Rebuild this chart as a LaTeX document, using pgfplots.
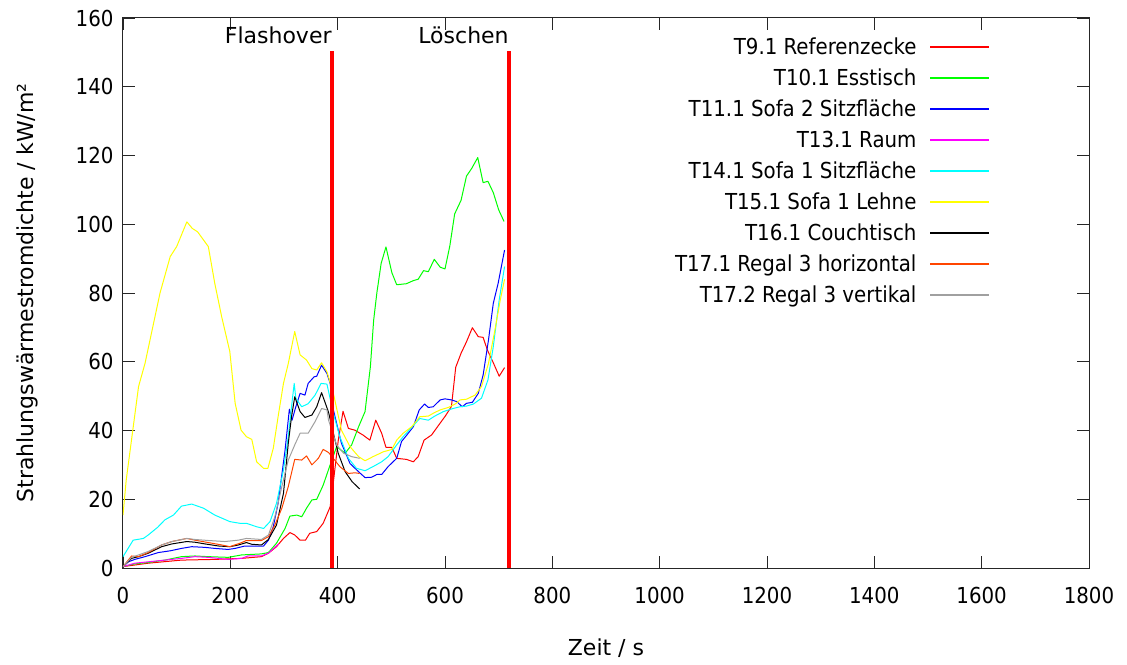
\documentclass[border=0pt]{standalone}
\usepackage{fontspec}
\setmainfont{DejaVu Sans Condensed}
\newfontfamily\widefont{DejaVu Sans}
\usepackage{pgfplots}
\pgfplotsset{compat=1.18}
\usetikzlibrary{calc}
\definecolor{plotorange}{RGB}{255,69,0}
\definecolor{plotgray}{RGB}{160,160,160}
\definecolor{plotcyan}{RGB}{0,255,255}
\definecolor{plotgreen}{RGB}{0,255,0}
\definecolor{plotyellow}{RGB}{255,255,0}
\definecolor{plotmagenta}{RGB}{255,0,255}
\definecolor{plotred}{RGB}{255,0,0}
\definecolor{plotblue}{RGB}{0,0,255}
\begin{document}
\begin{tikzpicture}[font=\fontsize{22}{26}\selectfont]
\begin{axis}[name=ax, scale only axis, width=966pt, height=550pt,
  xmin=0, xmax=1800, ymin=0, ymax=160,
  xtick distance=200, ytick distance=20,
  tick align=inside, major tick length=12pt,
  axis line style={black!85, line width=1pt},
  every tick/.style={black!85, line width=0.8pt},
  /pgf/number format/assume math mode=true,
  /pgf/number format/set thousands separator={},
  yticklabel style={xshift=-6pt},
  xticklabel style={yshift=-16pt},
  legend plot pos=right,
  legend cell align=right,
  legend image code/.code={\draw[#1, line width=1.5pt] (0pt,0pt) -- (59pt,0pt);},
  legend style={draw=none, fill=none, inner sep=0pt, outer sep=0pt,
    at={(rel axis cs:0.8975,0.9619)}, anchor=north east,
    row sep=15pt, column sep=13pt,
    nodes={inner sep=0pt, text height=16pt, text depth=0pt}},
  every axis plot/.append style={line width=1pt, line join=round},
]
% T9.1 Referenzecke
\addplot[color=plotred] coordinates {(0,0.4) (47,1.4) (109,2.3) (171,2.5) (221,2.8) (258,3.3) (271,4.3) (286,6.2) (299,8.6) (311,10.3) (320,9.6) (330,8.1) (340,8.1) (348,10.1) (361,10.6) (373,13) (386,17.8) (392,25) (401,37) (410,45.6) (420,40.6) (432,40.1) (447,38.7) (460,37.2) (471,43) (482,39.2) (490,35.1) (501,35.1) (510,31.9) (528,31.6) (541,30.9) (550,32.4) (561,37.2) (575,38.7) (587,41.3) (601,44.3) (612,47) (620,58.4) (630,62.5) (640,65.8) (651,69.9) (662,67.3) (671,67.1) (679,63.4) (690,59.7) (701,55.8) (711,58.3)};
\addlegendentry{T9.1 Referenzecke}
% T10.1 Esstisch
\addplot[color=plotgreen] coordinates {(0,0.4) (22,1.2) (47,1.6) (78,2.3) (109,3.3) (134,3.5) (159,3.3) (196,3.1) (221,3.8) (258,4.1) (271,4.5) (286,7.2) (302,11.5) (311,15.1) (324,15.4) (333,14.9) (342,17.4) (352,19.8) (361,20) (373,24.1) (386,30) (398,35.3) (414,33.4) (426,35.8) (439,41.1) (451,45.5) (461,58.6) (467,72) (473,80) (481,88.6) (490,93.4) (501,85.9) (510,82.4) (528,82.7) (541,83.6) (550,84) (560,86.5) (569,86.2) (580,89.8) (591,87.5) (600,87) (609,93.7) (618,103) (630,107) (640,114) (650,116.3) (661,119.4) (671,112.1) (680,112.5) (690,109.2) (700,104.2) (710,100.8)};
\addlegendentry{T10.1 Esstisch}
% T11.1 Sofa 2 Sitzflaeche
\addplot[color=plotblue] coordinates {(0,0.4) (10,1.8) (22,2.5) (41,3.3) (66,4.5) (88,5) (109,5.7) (128,6.2) (153,6) (171,5.7) (196,5.4) (209,5.7) (227,6.4) (246,6.4) (262,6.4) (271,8.1) (280,12) (289,18.8) (302,34.3) (310,46.2) (315,43) (322,46.9) (330,50.8) (339,50.3) (345,53.7) (356,55.6) (361,55.8) (370,59) (380,56.6) (386,53.7) (392,46) (407,36.3) (423,30.4) (439,28) (451,26.3) (463,26.4) (473,27.2) (482,27.2) (494,29.5) (510,31.9) (519,36.8) (529,38.7) (541,41.1) (552,46) (562,47.7) (569,46.7) (578,46.9) (591,48.9) (600,49.2) (612,48.9) (622,48.4) (632,46.9) (640,47.9) (651,48.2) (662,50.8) (671,56.1) (681,66.3) (690,77) (699,82.8) (711,92.5)};
\addlegendentry{T11.1 Sofa 2 Sitzfläche}
% T13.1 Raum
\addplot[color=plotmagenta] coordinates {(0,0.4) (22,1.4) (47,1.8) (78,2.3) (109,2.8) (134,3.3) (159,3.1) (196,2.5) (221,2.8) (233,3.5) (258,3.5) (271,4.3) (283,6.0) (290,7.0)};
\addlegendentry{T13.1 Raum}
% T14.1 Sofa 1 Sitzflaeche
\addplot[color=plotcyan] coordinates {(0,3.3) (19,8.1) (38,8.6) (47,9.6) (65,11.9) (78,14) (94,15.4) (109,18) (128,18.6) (150,17.4) (171,15.4) (199,13.5) (218,13) (230,13) (249,12) (262,11.5) (274,13.5) (286,18.8) (299,28.5) (308,38.2) (314,46.9) (319,53.7) (322,49.4) (333,46.9) (345,47.8) (358,50.3) (369,53.7) (380,53.5) (392,45) (404,38.2) (420,31.9) (435,29) (451,28.3) (466,29.5) (482,30.9) (494,32.4) (510,35.8) (522,38.2) (538,40.9) (553,43.5) (569,43) (581,44.2) (597,45.5) (615,46.4) (628,46.9) (640,47.1) (653,47.7) (668,49.4) (680,54.7) (690,64.4) (701,78) (711,87.7)};
\addlegendentry{T14.1 Sofa 1 Sitzfläche}
% T15.1 Sofa 1 Lehne
\addplot[color=plotyellow] coordinates {(0,15.4) (6,25.6) (29,52.8) (41,59.5) (69,80) (88,90.6) (100,93.5) (119,100.7) (129,98.8) (139,97.8) (159,93.5) (171,82.8) (184,73) (199,63) (209,47.9) (220,40.1) (230,38.2) (240,37.4) (249,30.9) (262,29) (270,29) (280,34.8) (289,44) (299,53.7) (308,59.5) (320,68.8) (330,62) (342,60.5) (352,58) (361,57.6) (370,59.7) (380,57.1) (392,50.8) (407,40.1) (423,35.3) (439,32.4) (451,31.2) (466,32.4) (485,33.8) (501,34.5) (510,37.2) (522,39.2) (538,41.1) (553,44) (569,44.2) (578,45) (591,46) (606,46.7) (619,47.7) (628,48.9) (640,49.1) (656,50.3) (668,52.8) (681,59.5) (693,69.2) (703,78) (711,84)};
\addlegendentry{T15.1 Sofa 1 Lehne}
% T16.1 Couchtisch
\addplot[color=black] coordinates {(0,0.4) (16,2.8) (29,3.3) (47,4.3) (72,6.2) (91,7) (119,7.7) (134,7.5) (153,7) (178,6.4) (199,6.2) (215,6.7) (230,7.4) (240,6.9) (258,6.7) (271,8.3) (286,12.5) (299,21.7) (308,36.3) (314,44) (320,49.8) (330,45.5) (339,43.8) (352,44.5) (361,46.9) (370,51) (376,48.4) (383,45.3) (392,39.2) (401,33.4) (414,28) (427,25.1) (441,23)};
\addlegendentry{T16.1 Couchtisch}
% T17.1 Regal 3 horizontal
\addplot[color=plotorange] coordinates {(0,0.4) (16,3.5) (29,3.3) (47,4.5) (72,6.7) (91,7.7) (119,8.6) (134,8.1) (159,7.4) (184,6.7) (199,6.2) (218,7.2) (230,8) (258,8) (271,9.1) (283,12.5) (296,17.4) (308,23.7) (320,31.6) (333,31.4) (342,32.6) (352,30) (364,31.9) (373,34.5) (383,33.6) (404,29.5) (420,27.5) (432,27.7) (441,27.5)};
\addlegendentry{T17.1 Regal 3 horizontal}
% T17.2 Regal 3 vertikal
\addplot[color=plotgray] coordinates {(0,0.4) (16,3.1) (29,3.8) (47,4.8) (72,6.7) (91,7.7) (119,8.6) (134,8.3) (159,8) (190,7.7) (215,8.1) (230,8.6) (258,8.3) (271,9.6) (283,14.9) (296,23.7) (308,31.4) (320,35.8) (330,39.2) (345,39.2) (358,42.6) (370,46.4) (380,46) (383,43) (398,35.8) (411,33.4) (426,32.4) (441,31.9)};
\addlegendentry{T17.2 Regal 3 vertikal}
% event markers
\addplot[color=plotred, line width=4pt, forget plot] coordinates {(389,0) (389,150.5)};
\addplot[color=plotred, line width=4pt, forget plot] coordinates {(720,0) (720,150.5)};
\node[anchor=base east, inner sep=0pt, font=\widefont\fontsize{22}{26}\selectfont] at (axis cs:389,152.6) {Flashover};
\node[anchor=base east, inner sep=0pt, font=\widefont\fontsize{22}{26}\selectfont] at (axis cs:719,152.6) {Löschen};
\end{axis}
\node[rotate=90, font=\widefont\fontsize{22}{26}\selectfont] at ($(ax.west)+(-96pt,0)$) {Strahlungswärmestromdichte / kW/m²};
\node[font=\widefont\fontsize{22}{26}\selectfont] at ($(ax.south)+(0,-80pt)$) {Zeit / s};
\pgfresetboundingbox
\path ($(ax.south west)+(-123pt,-96pt)$) rectangle ($(ax.north east)+(38pt,18pt)$);
\end{tikzpicture}
\end{document}
